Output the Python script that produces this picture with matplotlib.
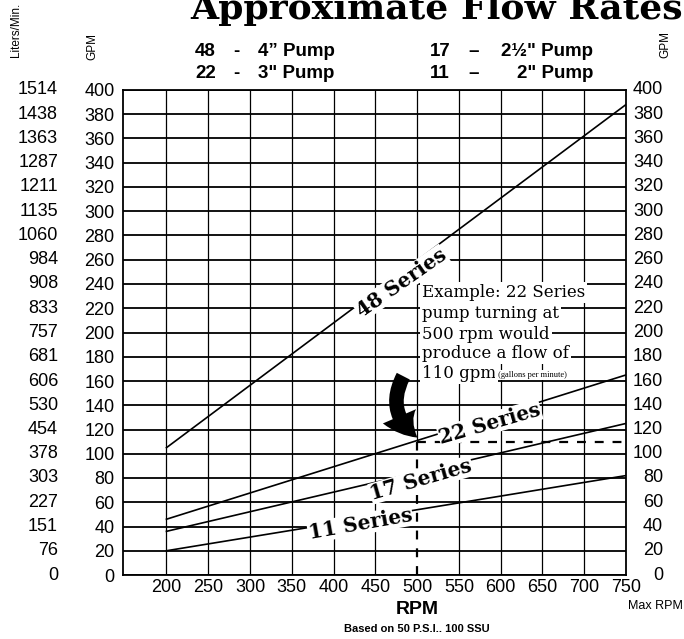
import matplotlib.pyplot as plt
from matplotlib.patches import FancyArrowPatch

# pump curves: straight lines between min and max rpm
rpm_ends = [200, 750]
gpm_48 = [105, 388]
gpm_22 = [46, 165]
gpm_17 = [36, 125]
gpm_11 = [20, 82]

series_names = ["48 Series", "22 Series", "17 Series", "11 Series"]
# label centres (rpm, gpm) and angles
label_rpm = [481, 587, 505, 432]
label_gpm = [241, 125, 78.5, 42]
label_rot = [35, 16, 16, 10]

rpm_ticks = list(range(200, 751, 50))
gpm_ticks = list(range(0, 401, 20))
liters_labels = ["0", "76", "151", "227", "303", "378", "454", "530", "606", "681",
                 "757", "833", "908", "984", "1060", "1135", "1211", "1287",
                 "1363", "1438", "1514"]

example_rpm = 500
example_gpm = 110
example_lines = ["Example: 22 Series", "pump turning at", "500 rpm would",
                 "produce a flow of", "110 gpm"]

SANS = "Liberation Sans"
SERIF = "DejaVu Serif"

fig = plt.figure(figsize=(6.84, 6.39), dpi=100)
ax = fig.add_axes([123 / 684, 64 / 639, 503 / 684, 485 / 639])
ax.set_xlim(148, 750)
ax.set_ylim(0, 400)

# grid
ax.set_yticks(gpm_ticks)
ax.set_xticks(rpm_ticks)
ax.grid(axis="y", color="black", lw=1.3, zorder=1)
vmin = [example_gpm if r == example_rpm else 0 for r in rpm_ticks[:-1]]
ax.vlines(rpm_ticks[:-1], vmin, 400, color="black", lw=0.9, zorder=1)
ax.set_axisbelow(True)
for s in ax.spines.values():
    s.set_linewidth(1.3)

ax.tick_params(length=0, labelsize=13, labelfontfamily=SANS)
ax.tick_params(axis="y", pad=6)
ax.tick_params(axis="x", pad=3)

# liters column on the left, GPM repeated on the right (right-aligned)
ytr = ax.get_yaxis_transform()
for g, lit in zip(gpm_ticks, liters_labels):
    ax.text(-0.129, g, lit, transform=ytr, ha="right", va="center",
            fontsize=13, family=SANS, clip_on=False)
    ax.text(1.074, g, str(g), transform=ytr, ha="right", va="center",
            fontsize=13, family=SANS, clip_on=False)

# series lines
for gpm in [gpm_48, gpm_22, gpm_17, gpm_11]:
    ax.plot(rpm_ends, gpm, color="black", lw=1.2, zorder=2)

# example dashed guide
ax.plot([example_rpm, example_rpm], [0, example_gpm], color="black", lw=1.6,
        ls=(0, (4, 4)), zorder=2)
ax.plot([example_rpm, rpm_ends[1]], [example_gpm, example_gpm], color="black",
        lw=1.6, ls=(0, (4, 4)), zorder=2)

# series labels
for name, x, y, rot in zip(series_names, label_rpm, label_gpm, label_rot):
    ax.text(x, y, name, rotation=rot, rotation_mode="anchor", ha="center",
            va="center", fontsize=14.5, fontweight="bold", family=SERIF, zorder=3,
            bbox=dict(facecolor="white", edgecolor="none", pad=0.5))

# example text, line by line with white backing
line_y = [232.6, 216, 198, 182.4, 165.8]
last = None
for txt, y in zip(example_lines, line_y):
    last = ax.text(506, y, txt, ha="left", va="center", fontsize=12,
                   family=SERIF, zorder=3,
                   bbox=dict(facecolor="white", edgecolor="none", pad=1.5))
ax.annotate(" (gallons per minute)", xy=(1, 0.2), xycoords=last, ha="left",
            va="bottom", fontsize=6, family="Liberation Serif", zorder=3,
            bbox=dict(facecolor="white", edgecolor="none", pad=1.0))

arrow = FancyArrowPatch((485, 166), (503, 112), connectionstyle="arc3,rad=0.45",
                        arrowstyle="simple,head_length=2.0,head_width=2.6,tail_width=1.05",
                        mutation_scale=10, color="black", lw=0, zorder=4)
ax.add_patch(arrow)

# header and titles
fig.text(437 / 684, 1 - 19 / 639, "Approximate Flow Rates", ha="center",
         va="baseline", fontsize=26, fontweight="bold", family=SERIF)

hdr = dict(fontsize=13.5, fontweight="bold", family=SANS, va="center")
fig.text(195 / 684, 1 - 52 / 639, "48", ha="left", **hdr)
fig.text(233 / 684, 1 - 52 / 639, "-", ha="left", **hdr)
fig.text(258 / 684, 1 - 52 / 639, "4\u201d Pump", ha="left", **hdr)
fig.text(195 / 684, 1 - 74 / 639, "22", ha="left", **hdr)
fig.text(233 / 684, 1 - 74 / 639, "-", ha="left", **hdr)
fig.text(258 / 684, 1 - 74 / 639, "3\" Pump", ha="left", **hdr)
fig.text(430 / 684, 1 - 52 / 639, "17", ha="left", **hdr)
fig.text(468 / 684, 1 - 52 / 639, "\u2013", ha="left", **hdr)
fig.text(593 / 684, 1 - 52 / 639, "2\u00bd\" Pump", ha="right", **hdr)
fig.text(430 / 684, 1 - 74 / 639, "11", ha="left", **hdr)
fig.text(468 / 684, 1 - 74 / 639, "\u2013", ha="left", **hdr)
fig.text(593 / 684, 1 - 74 / 639, "2\" Pump", ha="right", **hdr)

fig.text(16 / 684, 1 - 30 / 639, "Liters/Min.", rotation=90, ha="center",
         va="center", fontsize=8.5, family=SANS)
fig.text(92 / 684, 1 - 47 / 639, "GPM", rotation=90, ha="center",
         va="center", fontsize=8.5, family=SANS)
fig.text(665 / 684, 1 - 44 / 639, "GPM", rotation=90, ha="center",
         va="center", fontsize=8.5, family=SANS)

fig.text(417 / 684, 1 - 609 / 639, "RPM", ha="center", va="center",
         fontsize=14, fontweight="bold", family=SANS)
fig.text(655 / 684, 1 - 606 / 639, "Max RPM", ha="center", va="center",
         fontsize=9, family=SANS)
fig.text(417 / 684, 1 - 629 / 639, "Based on 50 P.S.I.. 100 SSU", ha="center",
         va="center", fontsize=8, fontweight="bold", family=SANS)

fig.savefig("out.png", dpi=100)
